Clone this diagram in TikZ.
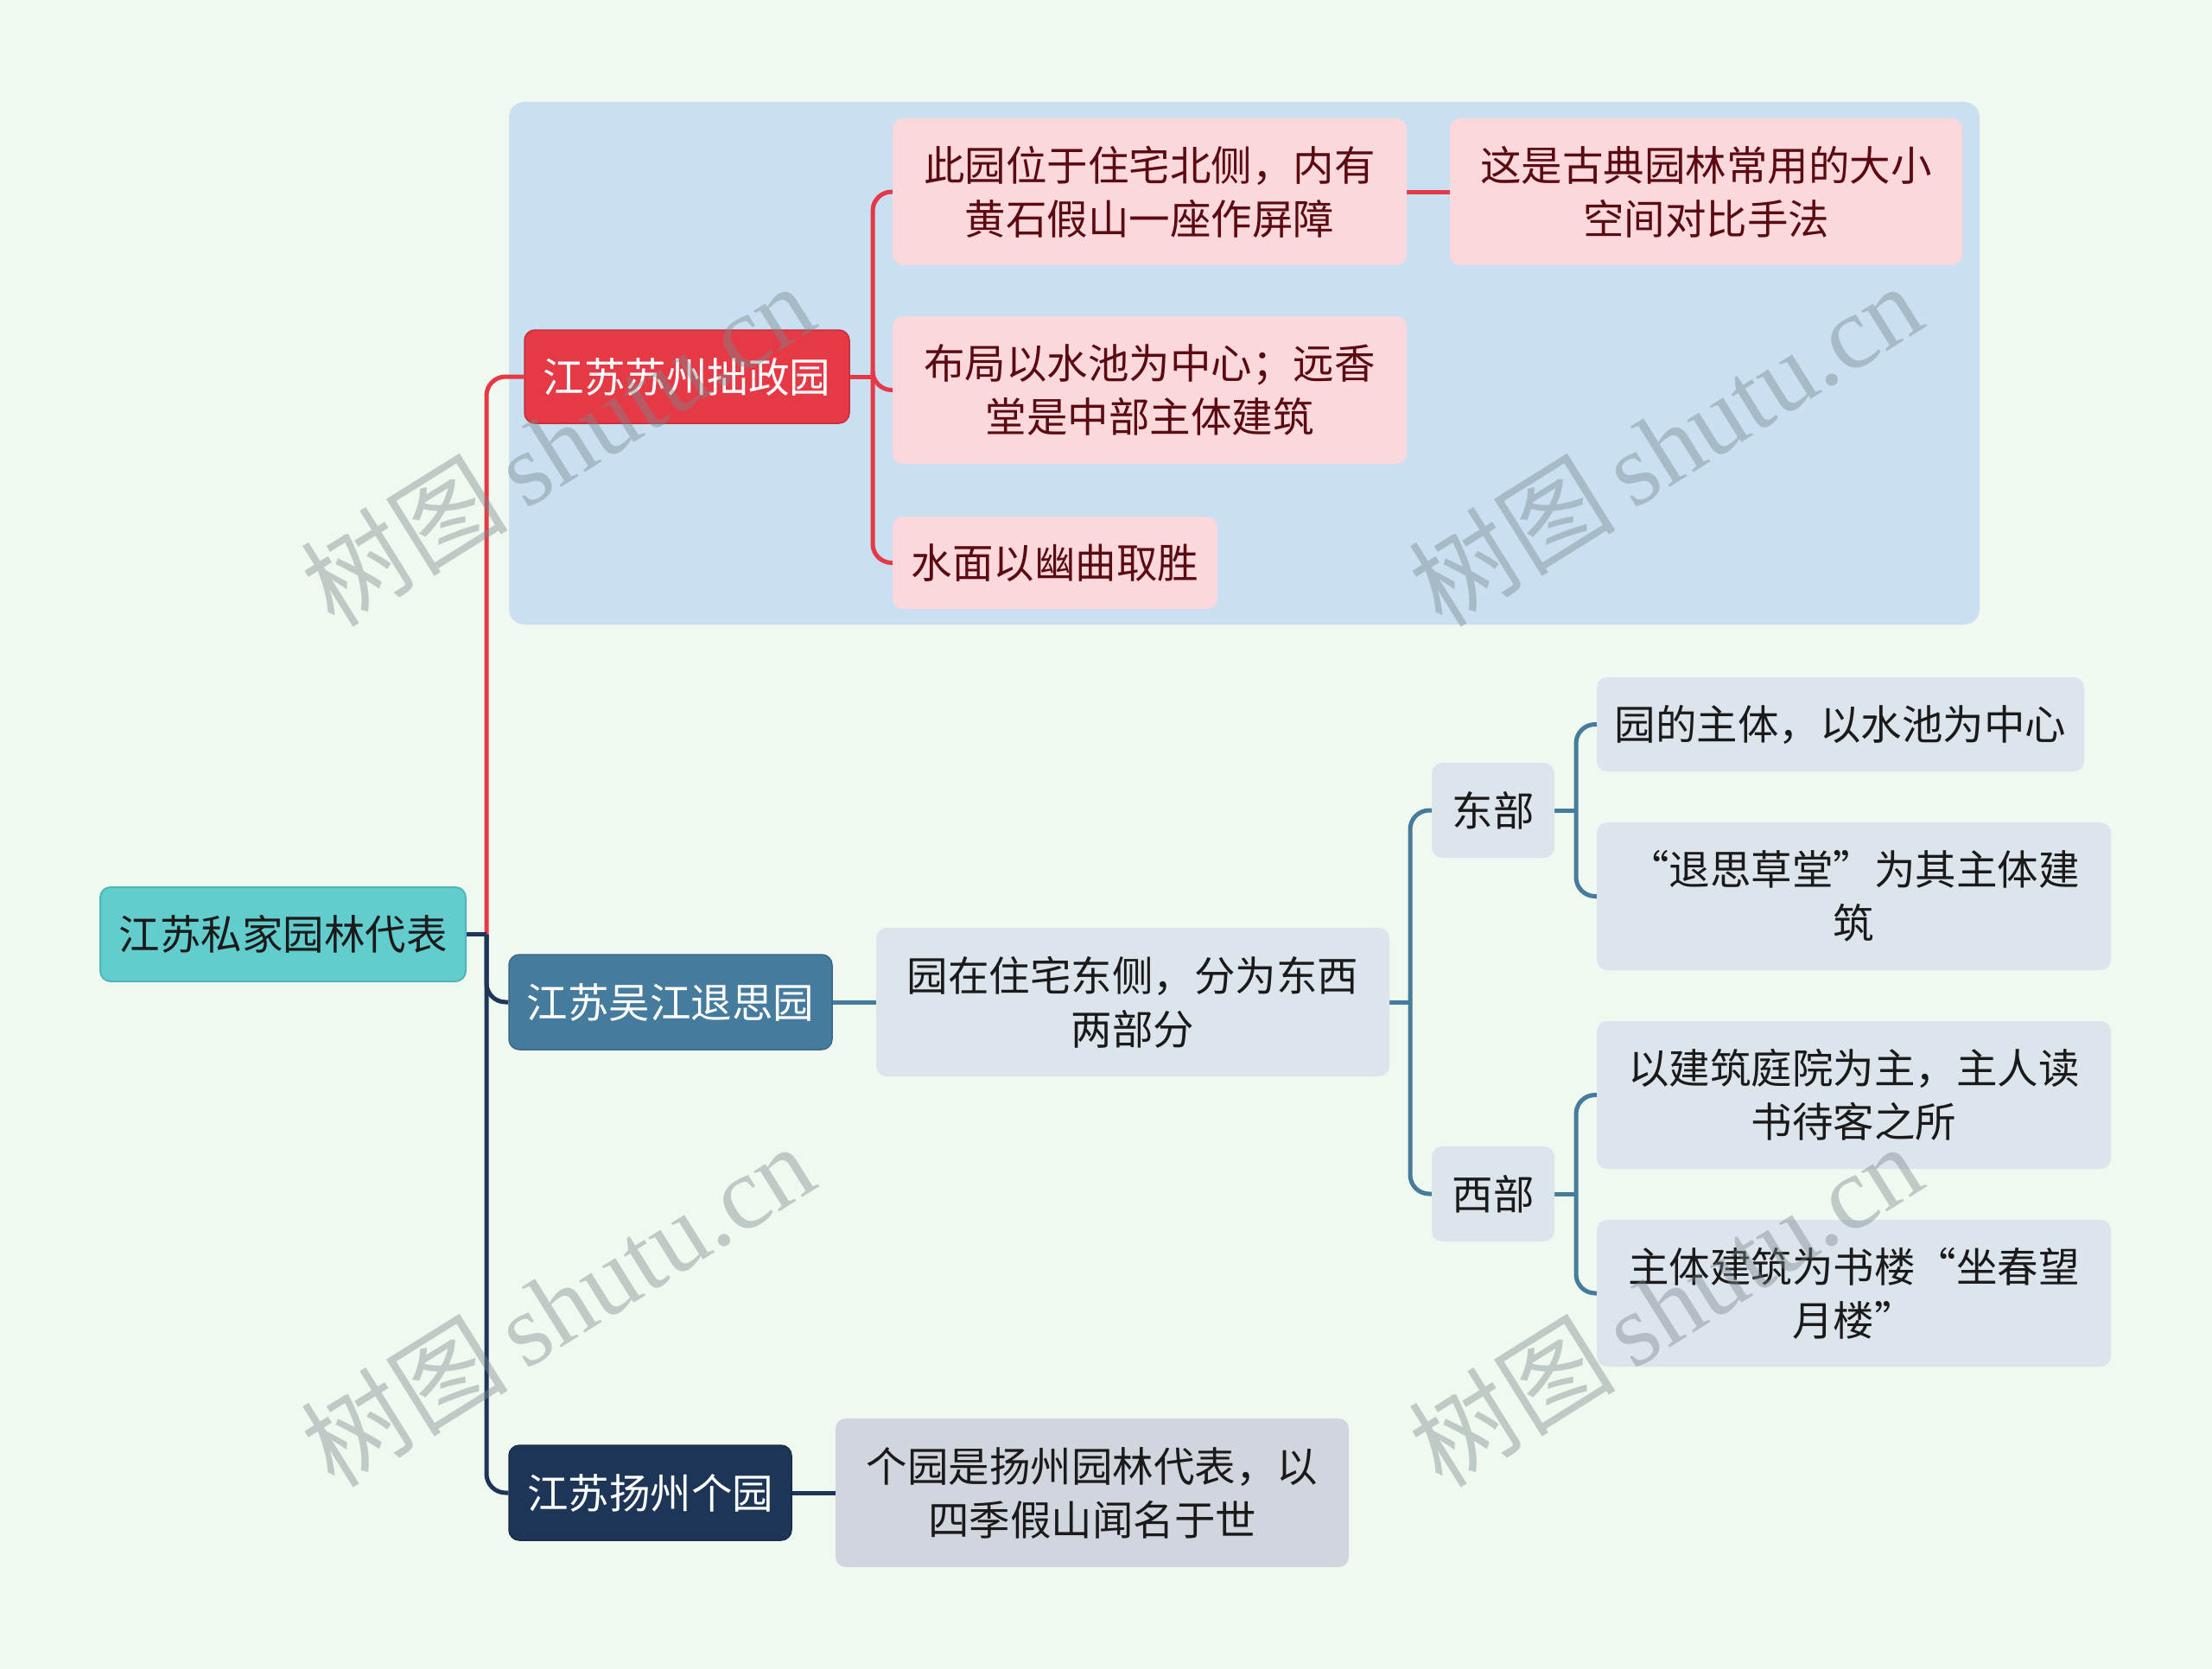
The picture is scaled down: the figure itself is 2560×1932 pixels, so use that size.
\documentclass[tikz,border=0pt]{standalone}
\usepackage{fontspec}
\setmainfont{Noto Sans CJK SC}
\newfontfamily\wmserif{Liberation Serif}
\newfontfamily\wmcjk{Noto Sans CJK SC}
\definecolor{bgc}{HTML}{F0F9EF}
\definecolor{grpc}{HTML}{C9DFF2}
\definecolor{rootc}{HTML}{63CDCD}
\definecolor{rootd}{HTML}{52B5B8}
\definecolor{redc}{HTML}{E63946}
\definecolor{pinkc}{HTML}{FAD8DC}
\definecolor{maroon}{HTML}{5C0A12}
\definecolor{steelc}{HTML}{457B9D}
\definecolor{lightc}{HTML}{DCE5EC}
\definecolor{navyc}{HTML}{1D3557}
\definecolor{grayc}{HTML}{D1D6DE}
\definecolor{textd}{HTML}{1A1A1A}
\definecolor{wmc}{HTML}{7A8A8C}
\pgfdeclarelayer{grp}
\pgfdeclarelayer{lines}
\pgfsetlayers{grp,lines,main}
\tikzset{
  box/.style={rounded corners=12, align=center, inner sep=0pt, font=\fontsize{47.5}{62}\selectfont},
  conn/.style={line width=5pt, rounded corners=22},
  wm/.style={rotate=32, text=wmc, opacity=0.42, font=\fontsize{120}{120}\selectfont}
}
\begin{document}
\begin{tikzpicture}[x=1pt,y=-1pt]
\begin{pgfonlayer}{grp}
\fill[bgc] (0,0) rectangle (2560,1932);
\fill[grpc, rounded corners=18] (589,118) rectangle (2291,723);
\end{pgfonlayer}
\useasboundingbox (0,0) rectangle (2560,1932);

% nodes
\node[box, fill=rootc, draw=rootd, line width=2pt, text=textd, minimum width=423, minimum height=109] (root) at (327.5,1081.5) {江苏私家园林代表};
\node[box, fill=redc, draw=redc!85!black, line width=1.5pt, text=white, minimum width=376, minimum height=108] (b1) at (795,436) {江苏苏州拙政园};
\node[box, fill=steelc, draw=steelc!85!black, line width=1.5pt, text=white, minimum width=374, minimum height=110] (b2) at (776,1160) {江苏吴江退思园};
\node[box, fill=navyc, draw=navyc!85!black, line width=1.5pt, text=white, minimum width=327, minimum height=110] (b3) at (752.5,1728) {江苏扬州个园};

\node[box, fill=pinkc, text=maroon, minimum width=595, minimum height=170] (c1) at (1330.5,222) {此园位于住宅北侧，内有\\黄石假山一座作屏障};
\node[box, fill=pinkc, text=maroon, minimum width=593, minimum height=170] (c1x) at (1974.5,222) {这是古典园林常用的大小\\空间对比手法};
\node[box, fill=pinkc, text=maroon, minimum width=595, minimum height=171] (c2) at (1330.5,451.5) {布局以水池为中心；远香\\堂是中部主体建筑};
\node[box, fill=pinkc, text=maroon, minimum width=376, minimum height=107] (c3) at (1221,651.5) {水面以幽曲取胜};

\node[box, fill=lightc, text=textd, minimum width=594, minimum height=172] (d0) at (1311,1160) {园在住宅东侧，分为东西\\两部分};
\node[box, fill=lightc, text=textd, minimum width=142, minimum height=110] (east) at (1728,938) {东部};
\node[box, fill=lightc, text=textd, minimum width=142, minimum height=110] (west) at (1728,1382) {西部};
\node[box, fill=lightc, text=textd, minimum width=564, minimum height=109] (e1) at (2130,838.5) {园的主体，以水池为中心};
\node[box, fill=lightc, text=textd, minimum width=595, minimum height=171] (e2) at (2145.5,1037.5) {“退思草堂”为其主体建\\筑};
\node[box, fill=lightc, text=textd, minimum width=595, minimum height=171] (w1) at (2145.5,1267.5) {以建筑庭院为主，主人读\\书待客之所};
\node[box, fill=lightc, text=textd, minimum width=595, minimum height=170] (w2) at (2145.5,1497) {主体建筑为书楼“坐春望\\月楼”};

\node[box, fill=grayc, text=textd, minimum width=594, minimum height=172] (g1) at (1264,1728) {个园是扬州园林代表，以\\四季假山闻名于世};

% junction coordinates
\coordinate (rj) at (563,1081.5);
\coordinate (cj) at (1010,436);
\coordinate (dj) at (1632,1160);
\coordinate (ej) at (1824,938);
\coordinate (wj) at (1824,1382);

% connectors
\begin{pgfonlayer}{lines}
\draw[conn, redc] (rj) |- (b1.west);
\draw[conn, redc] (b1.east) -- (cj);
\draw[conn, redc] (cj) |- (c1.west);
\draw[conn, redc] (cj) |- (c2.west);
\draw[conn, redc] (cj) |- (c3.west);
\draw[conn, redc] (c1.east) -- (c1x.west);

\draw[conn, steelc] (b2.east) -- (d0.west);
\draw[conn, steelc] (d0.east) -- (dj);
\draw[conn, steelc] (dj) |- (east.west);
\draw[conn, steelc] (dj) |- (west.west);
\draw[conn, steelc] (east.east) -- (ej);
\draw[conn, steelc] (ej) |- (e1.west);
\draw[conn, steelc] (ej) |- (e2.west);
\draw[conn, steelc] (west.east) -- (wj);
\draw[conn, steelc] (wj) |- (w1.west);
\draw[conn, steelc] (wj) |- (w2.west);

\draw[conn, navyc] (rj) |- (b2.west);
\draw[conn, navyc] (rj) |- (b3.west);
\draw[conn, navyc] (root.east) -- (rj);
\draw[conn, navyc] (b3.east) -- (g1.west);
\end{pgfonlayer}

% watermarks
\node[wm] (wm1) at (645,514) {\wmcjk 树图\,\wmserif shutu.cn};
\node[wm] (wm2) at (1927,514) {\wmcjk 树图\,\wmserif shutu.cn};
\node[wm] (wm3) at (645,1510) {\wmcjk 树图\,\wmserif shutu.cn};
\node[wm] (wm4) at (1927,1510) {\wmcjk 树图\,\wmserif shutu.cn};
\end{tikzpicture}
\end{document}
